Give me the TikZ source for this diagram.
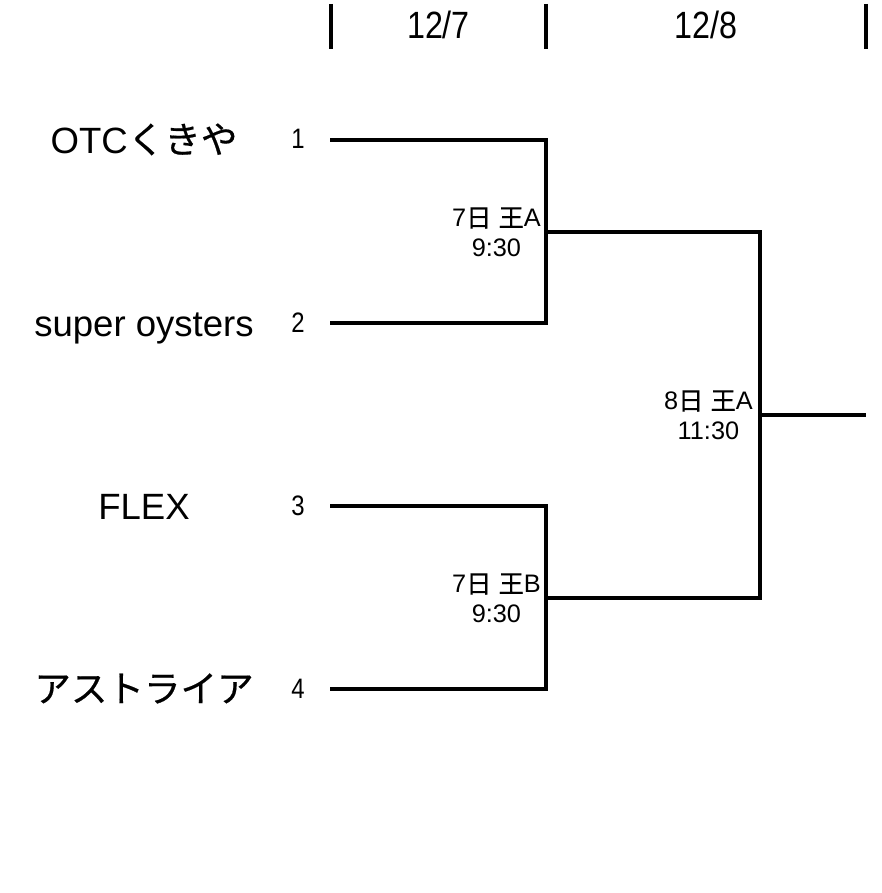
\documentclass[tikz,border=0pt]{standalone}
\usepackage{fontspec}
\setmainfont{Liberation Sans}
\newfontfamily\jp[FakeBold=0.5]{Noto Sans CJK JP}
\newfontfamily\narrow[FakeStretch=0.85]{Liberation Sans}
\usepackage{tikz}
\usetikzlibrary{calc,positioning}

\tikzset{
  bracket/.style={line width=3.4pt},
  daysep/.style={line width=2.6pt},
  team/.style={font=\fontsize{26}{28}\selectfont, anchor=base, inner sep=0pt},
  seed/.style={font=\narrow\fontsize{20}{22}\selectfont, anchor=base, inner sep=0pt},
  day/.style={font=\narrow\fontsize{27}{29}\selectfont, anchor=base, inner sep=0pt},
  game/.style={font=\fontsize{18}{21}\selectfont, align=center, anchor=east, inner sep=0pt},
}

\begin{document}
\begin{tikzpicture}[x=0.025cm, y=-0.025cm]
    \useasboundingbox (0,0) rectangle (881,893);
    %%Header
    \coordinate (h1) at (331,4);
    \coordinate (h2) at (546,4);
    \coordinate (h3) at (866,4);
    \foreach \h in {h1,h2,h3}
      \draw[daysep] (\h) -- ++(0,45);
    \node[day] (d7) at ($(h1)!0.5!(h2)+(0,35)$) {12/7};
    \node[day] (d8) at ($(h2)!0.5!(h3)+(0,35)$) {12/8};
    %%Teams and seeds
    \node[team] (t1) at (144,153) {OTC{\jp くきや}};
    \node[team] (t2) at (144,336) {super oysters};
    \node[team] (t3) at (144,519) {FLEX};
    \node[team] (t4) at (144,702) {\jp アストライア};
    \node[seed] (n1) at (298,149) {1};
    \node[seed] (n2) at (298,332) {2};
    \node[seed] (n3) at (298,515) {3};
    \node[seed] (n4) at (298,698) {4};
    %%Bracket
    \coordinate (a1) at (330,140);
    \coordinate (a2) at (330,323);
    \coordinate (a3) at (330,506);
    \coordinate (a4) at (330,689);
    \coordinate (m1) at (546,232);
    \coordinate (m2) at (546,598);
    \coordinate (f) at (760,415);
    \coordinate (w) at (866,415);
    \draw[bracket] (a1) -| (m1) |- (a2);
    \draw[bracket] (a3) -| (m2) |- (a4);
    \draw[bracket] (m1) -| (f) |- (m2);
    \draw[bracket] (f) -- (w);
    %%Games
    \node[game] (g1) at ($(m1)+(-5,0)$) {7{\jp 日} {\jp 王}A\\9:30};
    \node[game] (g2) at ($(m2)+(-5,0)$) {7{\jp 日} {\jp 王}B\\9:30};
    \node[game] (g3) at ($(f)+(-7,0)$) {8{\jp 日} {\jp 王}A\\11:30};
\end{tikzpicture}
\end{document}
